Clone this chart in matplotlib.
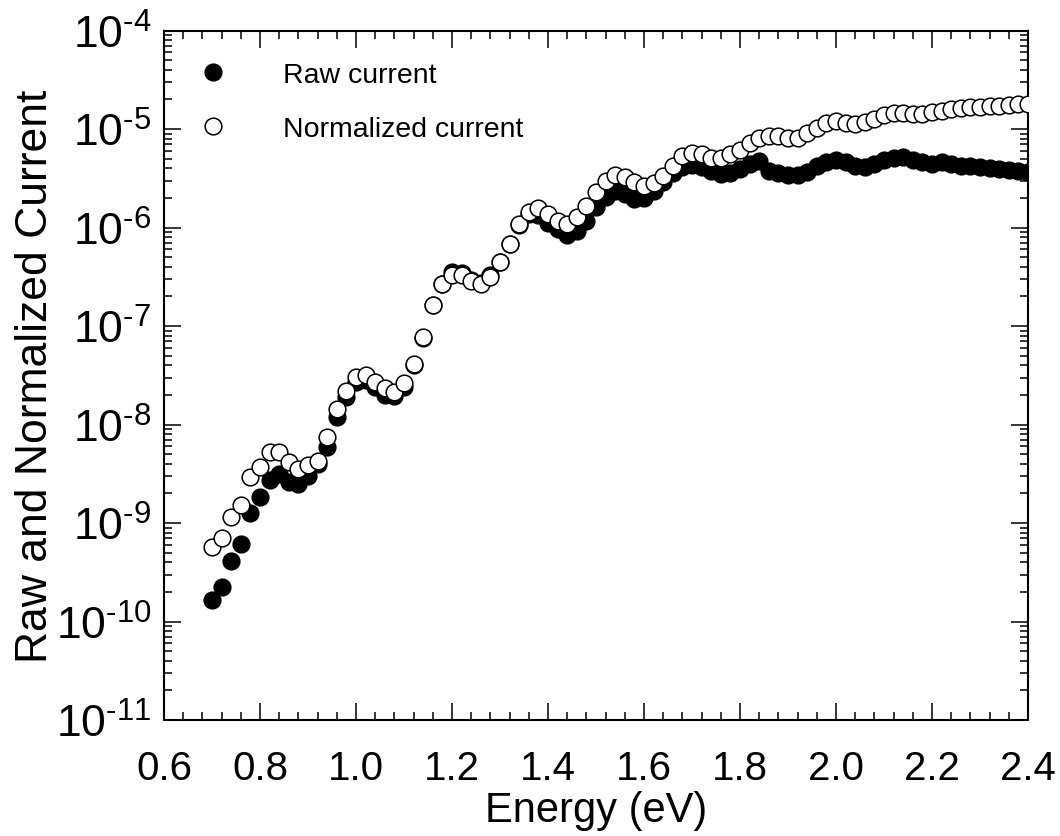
import numpy as np
import matplotlib
matplotlib.use("Agg")
from matplotlib import pyplot as plt
from matplotlib import ticker as ticker

plt.rcParams['font.family'] = ['Liberation Sans', 'DejaVu Sans']
plt.rcParams['mathtext.fontset'] = 'custom'
plt.rcParams['mathtext.rm'] = 'Liberation Sans'
plt.rcParams['mathtext.it'] = 'Liberation Sans'

# Photon energy (eV), one point every 20 meV
energy = np.round(np.arange(0.70, 2.401, 0.02), 2)

# Raw photocurrent
raw_current = [
    1.65e-10, 2.24e-10, 4.11e-10, 6.12e-10, 1.26e-9, 1.85e-9, 2.75e-9, 3.14e-9,
    2.62e-9, 2.49e-9, 3.02e-9, 4.0e-9, 5.91e-9, 1.19e-8, 1.90e-8, 2.70e-8,
    2.83e-8, 2.40e-8, 1.99e-8, 1.95e-8, 2.40e-8, 4.02e-8, 7.64e-8, 1.63e-7,
    2.64e-7, 3.53e-7, 3.45e-7, 2.93e-7, 2.73e-7, 3.29e-7, 4.47e-7, 6.80e-7,
    1.06e-6, 1.37e-6, 1.34e-6, 1.11e-6, 9.66e-7, 8.39e-7, 9.21e-7, 1.16e-6,
    1.61e-6, 2.04e-6, 2.35e-6, 2.19e-6, 1.95e-6, 2.00e-6, 2.35e-6, 2.90e-6,
    3.57e-6, 4.11e-6, 4.31e-6, 4.11e-6, 3.75e-6, 3.49e-6, 3.57e-6, 3.93e-6,
    4.41e-6, 4.73e-6, 3.75e-6, 3.57e-6, 3.41e-6, 3.41e-6, 3.66e-6, 4.21e-6,
    4.62e-6, 4.79e-6, 4.62e-6, 4.21e-6, 4.11e-6, 4.41e-6, 4.79e-6, 5.04e-6,
    5.16e-6, 4.79e-6, 4.62e-6, 4.41e-6, 4.62e-6, 4.41e-6, 4.24e-6, 4.18e-6,
    4.08e-6, 3.99e-6, 3.93e-6, 3.86e-6, 3.77e-6, 3.68e-6,
]

# Current normalized to the lamp spectrum
norm_current = [
    5.70e-10, 7.05e-10, 1.15e-9, 1.52e-9, 2.93e-9, 3.73e-9, 5.26e-9, 5.30e-9,
    4.16e-9, 3.53e-9, 3.91e-9, 4.29e-9, 7.46e-9, 1.42e-8, 2.20e-8, 3.01e-8,
    3.18e-8, 2.72e-8, 2.35e-8, 2.16e-8, 2.64e-8, 4.11e-8, 7.68e-8, 1.63e-7,
    2.64e-7, 3.29e-7, 3.27e-7, 2.86e-7, 2.67e-7, 3.18e-7, 4.47e-7, 6.80e-7,
    1.09e-6, 1.43e-6, 1.57e-6, 1.37e-6, 1.17e-6, 1.09e-6, 1.27e-6, 1.66e-6,
    2.31e-6, 2.99e-6, 3.41e-6, 3.24e-6, 2.92e-6, 2.66e-6, 2.83e-6, 3.36e-6,
    4.24e-6, 5.28e-6, 5.71e-6, 5.58e-6, 5.02e-6, 5.02e-6, 5.58e-6, 6.12e-6,
    7.29e-6, 8.05e-6, 8.55e-6, 8.55e-6, 8.05e-6, 8.10e-6, 9.10e-6, 1.02e-5,
    1.14e-5, 1.20e-5, 1.14e-5, 1.12e-5, 1.19e-5, 1.26e-5, 1.39e-5, 1.45e-5,
    1.45e-5, 1.42e-5, 1.42e-5, 1.48e-5, 1.53e-5, 1.60e-5, 1.62e-5, 1.66e-5,
    1.66e-5, 1.70e-5, 1.73e-5, 1.75e-5, 1.79e-5, 1.79e-5,
]

# Decades shown on the y axis
decades = np.arange(-11, -3)

fig = plt.figure(figsize=(10.6, 8.37), dpi=100)
ax = fig.add_axes([164 / 1060, 1 - 721 / 837, 864 / 1060, 689.5 / 837])

ax.plot(energy, raw_current, 'o', ms=12, mfc='black', mec='black', mew=1.1,
        label='Raw current', zorder=3)
ax.plot(energy, norm_current, 'o', ms=12, mfc='white', mec='black', mew=1.1,
        label='Normalized current', zorder=4)

ax.set_yscale('log')
ax.set_xlim(0.6, 2.4)
ax.set_ylim(10.0 ** decades[0], 10.0 ** decades[-1])

ax.xaxis.set_major_locator(ticker.MultipleLocator(0.2))
ax.xaxis.set_minor_locator(ticker.MultipleLocator(0.04))
ax.xaxis.set_major_formatter(ticker.FormatStrFormatter('%.1f'))

minor_y = [m * 10.0 ** d for d in decades[:-1] for m in range(2, 10)]
ax.yaxis.set_major_locator(ticker.FixedLocator(10.0 ** decades))
ax.yaxis.set_minor_locator(ticker.FixedLocator(minor_y))
ax.yaxis.set_minor_formatter(ticker.NullFormatter())
# plain hyphen in the exponent
ax.yaxis.set_major_formatter(
    ticker.FuncFormatter(lambda v, pos: r'10$^{\text{-%d}}$' % abs(round(np.log10(v)))))

ax.tick_params(which='both', direction='in', top=True, right=True,
               width=1.1, color='black')
ax.tick_params(which='major', length=12.5)
ax.tick_params(which='minor', length=6)
ax.tick_params(axis='x', which='major', labelsize=29, pad=21)
ax.tick_params(axis='y', which='major', labelsize=32, pad=9)
for sp in ax.spines.values():
    sp.set_linewidth(1.5)

ax.set_xlabel('Energy (eV)', fontsize=30, labelpad=2)
ax.set_ylabel('Raw and Normalized Current', fontsize=32, labelpad=0)

ax.legend(loc='upper left', bbox_to_anchor=(0.0, 0.991), frameon=False,
          fontsize=20.5, handletextpad=1.62, labelspacing=0.96,
          markerscale=1.0, borderpad=0.4, handlelength=1.66)

fig.savefig('out.png', dpi=100)
